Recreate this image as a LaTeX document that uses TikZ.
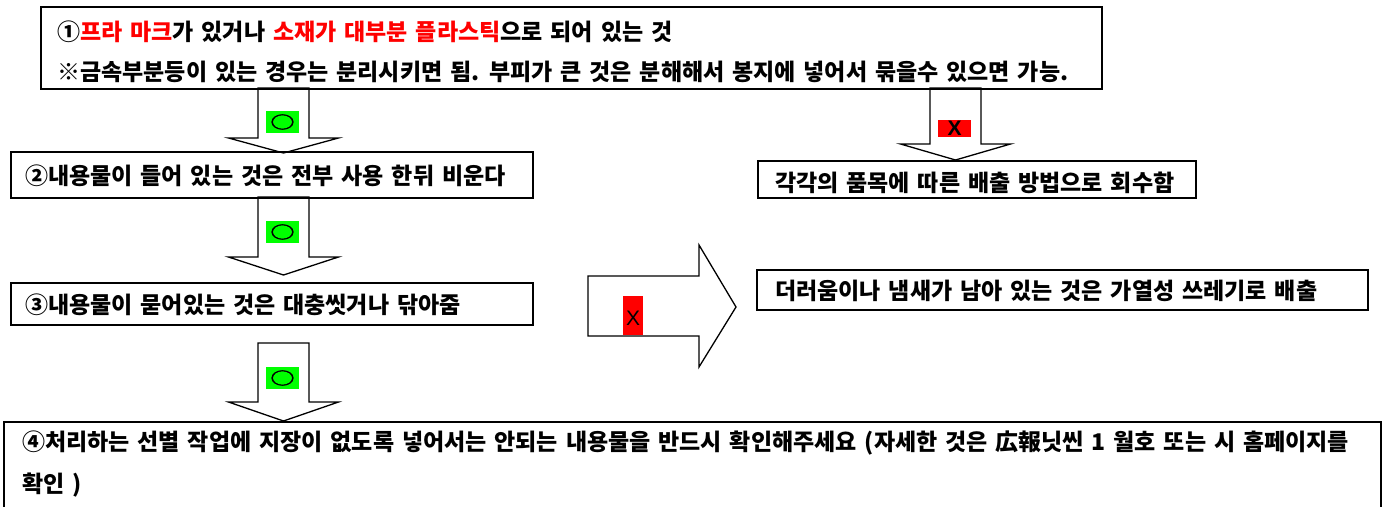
\documentclass[tikz,border=0pt]{standalone}
\usepackage{fontspec}
\usepackage{graphicx}
\setmainfont{Noto Sans CJK KR}[WordSpace=1.5]
\newfontfamily\lsans{Liberation Sans}
\newfontfamily\okfont{Noto Sans CJK KR}[FakeBold=2.5]
\definecolor{okgreen}{RGB}{0,255,0}
\definecolor{ngred}{RGB}{255,0,0}
\newcommand{\dnblock}[4]{% cx, ytop, yhead, ytip
  \draw[blk] (#1-25.5,#2) -- (#1+25.5,#2) -- (#1+25.5,#3) -- (#1+55,#3) -- (#1,#4) -- (#1-55,#3) -- (#1-25.5,#3) -- cycle;}
\newcommand{\okmark}{\scalebox{1.0}[0.7]{\okfont\fontsize{24}{24}\selectfont ○}}
\begin{document}
\begin{tikzpicture}[x=1pt,y=-1pt,
  box/.style={draw=black, line width=1.6pt, inner sep=0pt, anchor=north west},
  txt/.style={anchor=west, inner sep=0pt, font=\bfseries\fontsize{23}{40}\selectfont, align=left},
  blk/.style={draw=black, line width=1.3pt, fill=white, line join=miter},
  oklab/.style={fill=okgreen, minimum width=33pt, minimum height=22pt, inner sep=0pt},
  nglab/.style={fill=ngred, inner sep=0pt}
]
\useasboundingbox (0,0) rectangle (1386,506);
\clip (0,0) rectangle (1386,506);

% block arrows
\dnblock{283.5}{88}{138}{153}
\dnblock{283.5}{197}{257}{275}
\dnblock{283.5}{343}{402}{421}
\dnblock{955.5}{88}{144}{160}
\draw[blk] (588,276) -- (699,276) -- (699,245) -- (736,307) -- (699,367) -- (699,336) -- (588,336) -- cycle;

% boxes
\node[box, minimum width=1061pt, minimum height=82pt] (b1) at (40,6) {};
\node[box, minimum width=522pt, minimum height=46pt] (b2) at (10,151) {};
\node[box, minimum width=522pt, minimum height=42pt] (b3) at (10,282) {};
\node[box, minimum width=1377pt, minimum height=100pt] (b4) at (3,421) {};
\node[box, minimum width=438pt, minimum height=37pt] (b6) at (757,160) {};
\node[box, minimum width=611pt, minimum height=40pt] (b5) at (756,269) {};

% texts
\node[txt] (t1) at (57,52) {①\textcolor{ngred}{프라 마크}가 있거나 \textcolor{ngred}{소재가 대부분 플라스틱}으로 되어 있는 것\\
※금속부분등이 있는 경우는 분리시키면 됨. 부피가 큰 것은 분해해서 봉지에 넣어서 묶을수 있으면 가능.};
\node[txt] (t2) at (25,176) {②내용물이 들어 있는 것은 전부 사용 한뒤 비운다};
\node[txt] (t3) at (25,305) {③내용물이 묻어있는 것은 대충씻거나 닦아줌};
\node[txt, font=\bfseries\fontsize{23}{42}\selectfont] (t4) at (22,464) {④처리하는 선별 작업에 지장이 없도록 넣어서는 안되는 내용물을 반드시 확인해주세요 (자세한 것은 広報닛씬 1 월호 또는 시 홈페이지를\\
확인 )};
\node[txt] (t6) at (775,183) {각각의 품목에 따른 배출 방법으로 회수함};
\node[txt] (t5) at (775,291) {더러움이나 냄새가 남아 있는 것은 가열성 쓰레기로 배출};

% labels on arrows
\node[oklab] (g1) at (282.5,122) {\okmark};
\node[oklab] (g2) at (282.5,232) {\okmark};
\node[oklab] (g3) at (282.5,378) {\okmark};
\node[nglab, minimum width=33pt, minimum height=17pt, font=\lsans\bfseries\fontsize{21}{21}\selectfont] (r1) at (954.5,128.5) {X};
\node[nglab, minimum width=20pt, minimum height=39pt] (r2) at (633,315.5) {};
\node[inner sep=0pt, font=\lsans\fontsize{21}{21}\selectfont] (x2) at ([yshift=-3pt]r2.center) {X};
\end{tikzpicture}
\end{document}
